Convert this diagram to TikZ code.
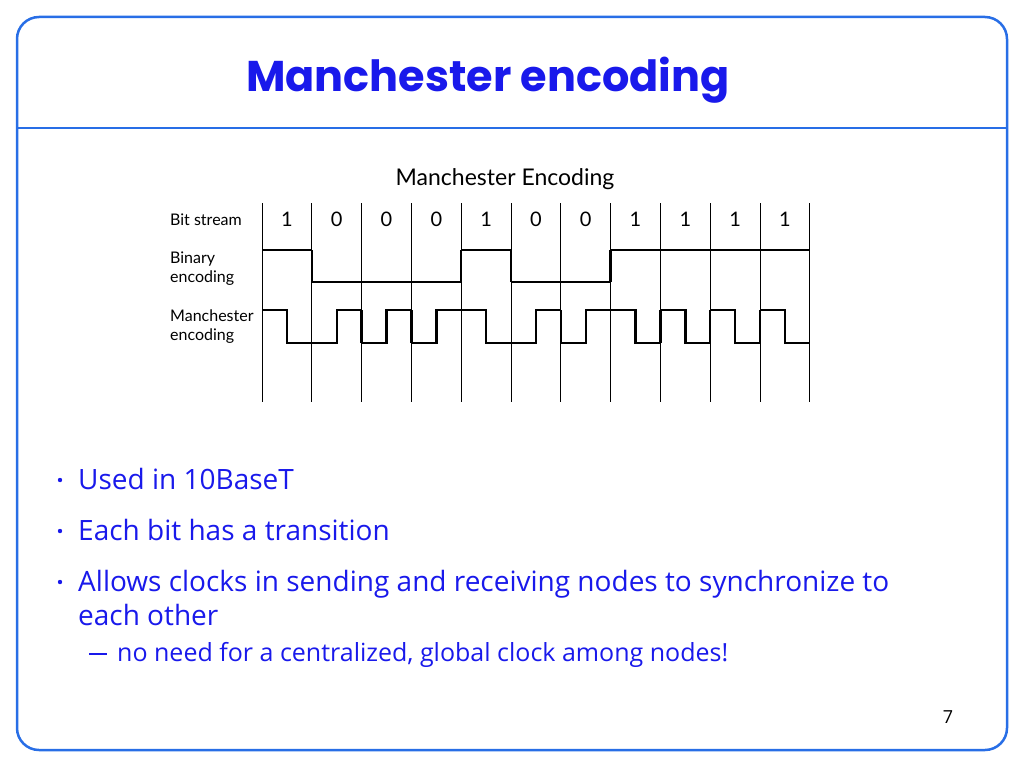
\documentclass[tikz,border=0pt]{standalone}
\usepackage{fontspec}
\setmainfont{Open Sans}
\newfontfamily\ttlfont{Poppins}
\newfontfamily\dgfont{Lato}
\definecolor{blu}{RGB}{25,25,235}
\definecolor{frm}{RGB}{40,110,230}
\begin{document}
\begin{tikzpicture}[x=1pt,y=-1pt,
  wave/.style={line width=2.4pt,line join=miter},
  grid/.style={line width=1pt},
  dlab/.style={font=\dgfont\fontsize{16}{19}\selectfont,align=left,anchor=west,inner sep=0pt},
  bit/.style={font=\dgfont\fontsize{20}{22}\selectfont,inner sep=0pt},
  btxt/.style={font=\fontsize{28}{31}\selectfont,text=blu,anchor=base west,inner sep=0pt}]
\useasboundingbox (0,0) rectangle (1024,768);
\draw[frm,line width=2.5pt,rounded corners=22pt] (17,17) rectangle (1007,750);
\draw[frm,line width=2.5pt] (17,128) -- (1007,128);
\node[font=\ttlfont\bfseries\fontsize{43}{46}\selectfont,text=blu] (title) at (488,80) {Manchester encoding};
\node[font=\dgfont\fontsize{23}{25}\selectfont] (dt) at (505,179) {Manchester Encoding};
\node[dlab] (lb) at (170,220) {Bit stream};
\node[dlab] (lbin) at (170,269) {Binary\\encoding};
\node[dlab] (lman) at (170,327) {Manchester\\encoding};
\foreach \i in {0,...,11}{\draw[grid] ({262+49.8*\i},203) -- ({262+49.8*\i},402);}
\foreach \b [count=\i from 0] in {1,0,0,0,1,0,0,1,1,1,1}{
  \node[bit] (b\i) at ({262+49.8*\i+24.9},219) {\b};
  \pgfmathsetmacro{\xa}{262+49.8*\i}
  \pgfmathsetmacro{\xm}{\xa+24.9}
  \pgfmathsetmacro{\xb}{\xa+49.8}
  \ifnum\b=1
    \draw[wave] (\xa,250) -- (\xb,250);
    \draw[wave] (\xa,310) -- (\xm,310) -- (\xm,343) -- (\xb,343);
  \else
    \draw[wave] (\xa,282) -- (\xb,282);
    \draw[wave] (\xa,343) -- (\xm,343) -- (\xm,310) -- (\xb,310);
  \fi
}
\foreach \k in {1,4,5,7}{\draw[wave] ({262+49.8*\k},250) -- ({262+49.8*\k},282);}
\foreach \k in {2,3,6,8,9,10}{\draw[wave] ({262+49.8*\k},310) -- ({262+49.8*\k},343);}
\node[btxt] (u1) at (78,489) {Used in 10BaseT};
\node[btxt] (u2) at (78,540) {Each bit has a transition};
\node[btxt] (u3) at (78,591) {Allows clocks in sending and receiving nodes to synchronize to};
\node[btxt] (u4) at (78,625) {each other};
\node[btxt,font=\fontsize{25}{26}\selectfont] (u5) at (117,661) {no need for a centralized, global clock among nodes!};
\foreach \y in {480,531,582}{\fill[blu] (60,\y) circle (2.2);}
\draw[blu,line width=1.3pt] (89,654) -- (107,654);
\node[font=\fontsize{18}{20}\selectfont] (pg) at (948,717) {7};
\end{tikzpicture}
\end{document}
